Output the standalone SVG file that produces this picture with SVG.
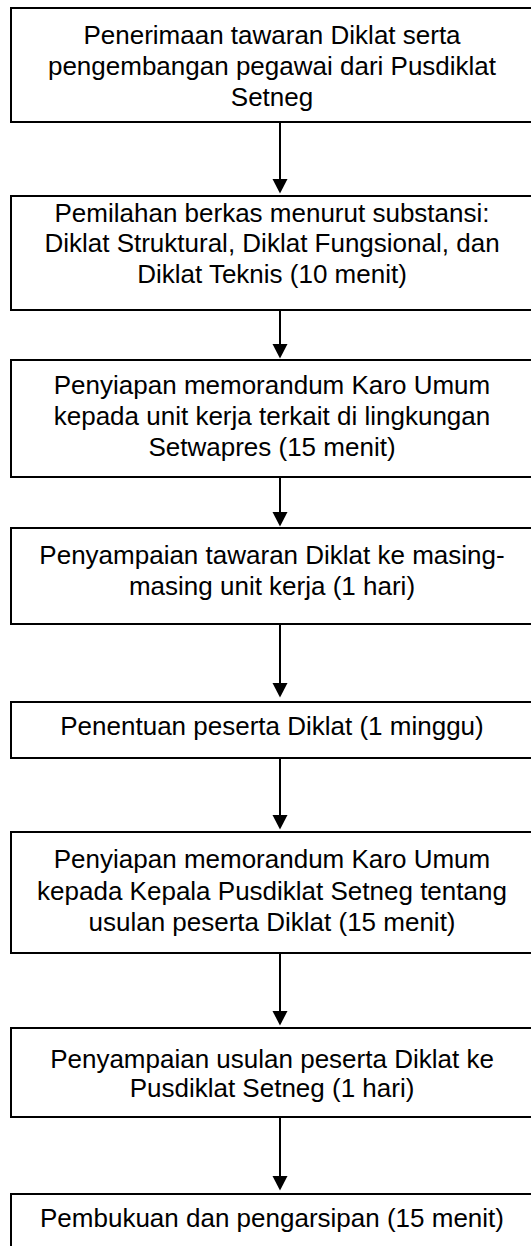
<svg xmlns="http://www.w3.org/2000/svg" width="531" height="1246" viewBox="0 0 531 1246">
  <style>
    .box { fill: #ffffff; stroke: #000000; stroke-width: 2; }
    .lbl { font-family: "Liberation Sans", Arial, sans-serif; font-size: 26px; fill: #000000; text-anchor: middle; }
    .flow { stroke: #000000; stroke-width: 2; fill: none; marker-end: url(#head); }
  </style>
  <defs>
    <marker id="head" markerUnits="userSpaceOnUse" markerWidth="16" markerHeight="17" refX="0" refY="8" orient="auto">
      <path d="M0,0.5 L14.5,8 L0,15.5 Z" fill="#000000"/>
    </marker>
  </defs>
  <rect width="531" height="1246" fill="#ffffff"/>

  <g id="connectors">
    <line class="flow" x1="280" y1="122" x2="280" y2="179"/>
    <line class="flow" x1="280" y1="310" x2="280" y2="344"/>
    <line class="flow" x1="280" y1="477" x2="280" y2="512"/>
    <line class="flow" x1="280" y1="624" x2="280" y2="683"/>
    <line class="flow" x1="280" y1="758" x2="280" y2="815"/>
    <line class="flow" x1="280" y1="953" x2="280" y2="1011"/>
    <line class="flow" x1="280" y1="1117" x2="280" y2="1176"/>
  </g>

  <g id="step1">
    <rect class="box" x="11" y="8" width="526" height="114"/>
    <text class="lbl" x="272" y="44">Penerimaan tawaran Diklat serta</text>
    <text class="lbl" x="272" y="75">pengembangan pegawai dari Pusdiklat</text>
    <text class="lbl" x="272" y="106">Setneg</text>
  </g>

  <g id="step2">
    <rect class="box" x="11" y="196" width="526" height="114"/>
    <text class="lbl" x="272" y="222">Pemilahan berkas menurut substansi:</text>
    <text class="lbl" x="272" y="252">Diklat Struktural, Diklat Fungsional, dan</text>
    <text class="lbl" x="272" y="283">Diklat Teknis (10 menit)</text>
  </g>

  <g id="step3">
    <rect class="box" x="11" y="360" width="526" height="117"/>
    <text class="lbl" x="272" y="394">Penyiapan memorandum Karo Umum</text>
    <text class="lbl" x="272" y="425">kepada unit kerja terkait di lingkungan</text>
    <text class="lbl" x="272" y="456">Setwapres (15 menit)</text>
  </g>

  <g id="step4">
    <rect class="box" x="11" y="528" width="526" height="96"/>
    <text class="lbl" x="272" y="564">Penyampaian tawaran Diklat ke masing-</text>
    <text class="lbl" x="272" y="595">masing unit kerja (1 hari)</text>
  </g>

  <g id="step5">
    <rect class="box" x="11" y="702" width="526" height="56"/>
    <text class="lbl" x="272" y="735">Penentuan peserta Diklat (1 minggu)</text>
  </g>

  <g id="step6">
    <rect class="box" x="11" y="832" width="526" height="121"/>
    <text class="lbl" x="272" y="868">Penyiapan memorandum Karo Umum</text>
    <text class="lbl" x="272" y="900">kepada Kepala Pusdiklat Setneg tentang</text>
    <text class="lbl" x="272" y="931">usulan peserta Diklat (15 menit)</text>
  </g>

  <g id="step7">
    <rect class="box" x="11" y="1028" width="526" height="89"/>
    <text class="lbl" x="272" y="1068">Penyampaian usulan peserta Diklat ke</text>
    <text class="lbl" x="272" y="1097">Pusdiklat Setneg (1 hari)</text>
  </g>

  <g id="step8">
    <rect class="box" x="11" y="1194" width="526" height="60"/>
    <text class="lbl" x="272" y="1227">Pembukuan dan pengarsipan (15 menit)</text>
  </g>
</svg>
